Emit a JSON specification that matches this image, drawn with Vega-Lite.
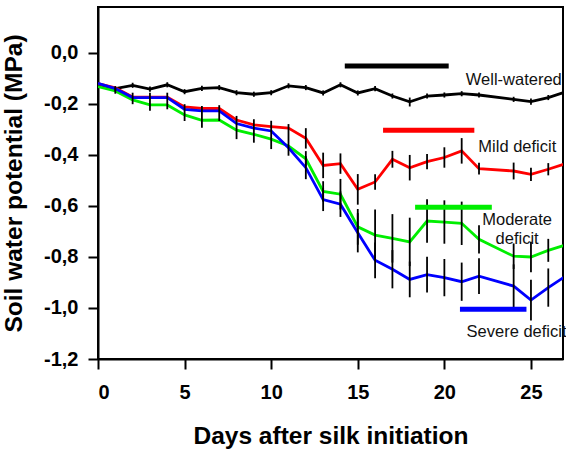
{
  "$schema": "https://vega.github.io/schema/vega-lite/v6.json",
  "autosize": "none",
  "padding": {"left": 98, "top": 7, "right": 3, "bottom": 94},
  "width": 465,
  "height": 352,
  "config": {
    "font": "Liberation Sans",
    "view": {"stroke": "#000000", "strokeWidth": 2},
    "axis": {
      "grid": false,
      "domainColor": "#000000",
      "domainWidth": 2,
      "tickColor": "#000000",
      "tickWidth": 2,
      "tickSize": 10,
      "labelColor": "#000000",
      "labelFont": "Liberation Sans",
      "labelFontWeight": "bold",
      "labelFontSize": 20,
      "titleColor": "#000000",
      "titleFont": "Liberation Sans",
      "titleFontWeight": "bold",
      "titleFontSize": 24.5
    }
  },
  "datasets": {
    "series": [
      {"s": "Well-watered", "day": 0, "v": -0.123}, {"s": "Well-watered", "day": 1, "v": -0.14}, {"s": "Well-watered", "day": 2, "v": -0.127}, {"s": "Well-watered", "day": 3, "v": -0.142}, {"s": "Well-watered", "day": 4, "v": -0.125}, {"s": "Well-watered", "day": 5, "v": -0.152}, {"s": "Well-watered", "day": 6, "v": -0.139}, {"s": "Well-watered", "day": 7, "v": -0.136}, {"s": "Well-watered", "day": 8, "v": -0.156}, {"s": "Well-watered", "day": 9, "v": -0.162}, {"s": "Well-watered", "day": 10, "v": -0.156}, {"s": "Well-watered", "day": 11, "v": -0.129}, {"s": "Well-watered", "day": 12, "v": -0.136}, {"s": "Well-watered", "day": 13, "v": -0.157}, {"s": "Well-watered", "day": 14, "v": -0.125}, {"s": "Well-watered", "day": 15, "v": -0.157}, {"s": "Well-watered", "day": 16, "v": -0.14}, {"s": "Well-watered", "day": 17, "v": -0.169}, {"s": "Well-watered", "day": 18, "v": -0.192}, {"s": "Well-watered", "day": 19, "v": -0.169}, {"s": "Well-watered", "day": 20, "v": -0.165}, {"s": "Well-watered", "day": 21, "v": -0.16}, {"s": "Well-watered", "day": 22, "v": -0.165}, {"s": "Well-watered", "day": 24, "v": -0.182}, {"s": "Well-watered", "day": 25, "v": -0.191}, {"s": "Well-watered", "day": 26, "v": -0.175}, {"s": "Well-watered", "day": 27, "v": -0.153},
      {"s": "Moderate deficit", "day": 0, "v": -0.132}, {"s": "Moderate deficit", "day": 1, "v": -0.149}, {"s": "Moderate deficit", "day": 2, "v": -0.184}, {"s": "Moderate deficit", "day": 3, "v": -0.204}, {"s": "Moderate deficit", "day": 4, "v": -0.204}, {"s": "Moderate deficit", "day": 5, "v": -0.243}, {"s": "Moderate deficit", "day": 6, "v": -0.264}, {"s": "Moderate deficit", "day": 7, "v": -0.263}, {"s": "Moderate deficit", "day": 8, "v": -0.303}, {"s": "Moderate deficit", "day": 9, "v": -0.319}, {"s": "Moderate deficit", "day": 10, "v": -0.338}, {"s": "Moderate deficit", "day": 11, "v": -0.365}, {"s": "Moderate deficit", "day": 12, "v": -0.415}, {"s": "Moderate deficit", "day": 13, "v": -0.543}, {"s": "Moderate deficit", "day": 14, "v": -0.554}, {"s": "Moderate deficit", "day": 15, "v": -0.682}, {"s": "Moderate deficit", "day": 16, "v": -0.714}, {"s": "Moderate deficit", "day": 17, "v": -0.727}, {"s": "Moderate deficit", "day": 18, "v": -0.741}, {"s": "Moderate deficit", "day": 19, "v": -0.659}, {"s": "Moderate deficit", "day": 20, "v": -0.663}, {"s": "Moderate deficit", "day": 21, "v": -0.668}, {"s": "Moderate deficit", "day": 22, "v": -0.731}, {"s": "Moderate deficit", "day": 24, "v": -0.797}, {"s": "Moderate deficit", "day": 25, "v": -0.8}, {"s": "Moderate deficit", "day": 26, "v": -0.774}, {"s": "Moderate deficit", "day": 27, "v": -0.753},
      {"s": "Mild deficit", "day": 0, "v": -0.12}, {"s": "Mild deficit", "day": 1, "v": -0.137}, {"s": "Mild deficit", "day": 2, "v": -0.173}, {"s": "Mild deficit", "day": 3, "v": -0.173}, {"s": "Mild deficit", "day": 4, "v": -0.173}, {"s": "Mild deficit", "day": 5, "v": -0.212}, {"s": "Mild deficit", "day": 6, "v": -0.218}, {"s": "Mild deficit", "day": 7, "v": -0.218}, {"s": "Mild deficit", "day": 8, "v": -0.263}, {"s": "Mild deficit", "day": 9, "v": -0.282}, {"s": "Mild deficit", "day": 10, "v": -0.289}, {"s": "Mild deficit", "day": 11, "v": -0.295}, {"s": "Mild deficit", "day": 12, "v": -0.335}, {"s": "Mild deficit", "day": 13, "v": -0.441}, {"s": "Mild deficit", "day": 14, "v": -0.434}, {"s": "Mild deficit", "day": 15, "v": -0.535}, {"s": "Mild deficit", "day": 16, "v": -0.506}, {"s": "Mild deficit", "day": 17, "v": -0.417}, {"s": "Mild deficit", "day": 18, "v": -0.45}, {"s": "Mild deficit", "day": 19, "v": -0.426}, {"s": "Mild deficit", "day": 20, "v": -0.41}, {"s": "Mild deficit", "day": 21, "v": -0.384}, {"s": "Mild deficit", "day": 22, "v": -0.454}, {"s": "Mild deficit", "day": 24, "v": -0.463}, {"s": "Mild deficit", "day": 25, "v": -0.476}, {"s": "Mild deficit", "day": 26, "v": -0.456}, {"s": "Mild deficit", "day": 27, "v": -0.434},
      {"s": "Severe deficit", "day": 0, "v": -0.119}, {"s": "Severe deficit", "day": 1, "v": -0.14}, {"s": "Severe deficit", "day": 2, "v": -0.175}, {"s": "Severe deficit", "day": 3, "v": -0.175}, {"s": "Severe deficit", "day": 4, "v": -0.175}, {"s": "Severe deficit", "day": 5, "v": -0.221}, {"s": "Severe deficit", "day": 6, "v": -0.227}, {"s": "Severe deficit", "day": 7, "v": -0.227}, {"s": "Severe deficit", "day": 8, "v": -0.277}, {"s": "Severe deficit", "day": 9, "v": -0.295}, {"s": "Severe deficit", "day": 10, "v": -0.306}, {"s": "Severe deficit", "day": 11, "v": -0.372}, {"s": "Severe deficit", "day": 12, "v": -0.45}, {"s": "Severe deficit", "day": 13, "v": -0.575}, {"s": "Severe deficit", "day": 14, "v": -0.593}, {"s": "Severe deficit", "day": 15, "v": -0.705}, {"s": "Severe deficit", "day": 16, "v": -0.813}, {"s": "Severe deficit", "day": 17, "v": -0.848}, {"s": "Severe deficit", "day": 18, "v": -0.888}, {"s": "Severe deficit", "day": 19, "v": -0.869}, {"s": "Severe deficit", "day": 20, "v": -0.881}, {"s": "Severe deficit", "day": 21, "v": -0.897}, {"s": "Severe deficit", "day": 22, "v": -0.875}, {"s": "Severe deficit", "day": 24, "v": -0.914}, {"s": "Severe deficit", "day": 25, "v": -0.969}, {"s": "Severe deficit", "day": 26, "v": -0.92}, {"s": "Severe deficit", "day": 27, "v": -0.875}
    ],
    "errors": [
      {"s": "Well-watered", "day": 1, "lo": -0.15, "hi": -0.13}, {"s": "Well-watered", "day": 2, "lo": -0.137, "hi": -0.117}, {"s": "Well-watered", "day": 3, "lo": -0.152, "hi": -0.132}, {"s": "Well-watered", "day": 4, "lo": -0.135, "hi": -0.115}, {"s": "Well-watered", "day": 5, "lo": -0.162, "hi": -0.142}, {"s": "Well-watered", "day": 6, "lo": -0.149, "hi": -0.129}, {"s": "Well-watered", "day": 7, "lo": -0.146, "hi": -0.126}, {"s": "Well-watered", "day": 8, "lo": -0.166, "hi": -0.146}, {"s": "Well-watered", "day": 9, "lo": -0.172, "hi": -0.152}, {"s": "Well-watered", "day": 10, "lo": -0.166, "hi": -0.146}, {"s": "Well-watered", "day": 11, "lo": -0.139, "hi": -0.119}, {"s": "Well-watered", "day": 12, "lo": -0.146, "hi": -0.126}, {"s": "Well-watered", "day": 13, "lo": -0.167, "hi": -0.147}, {"s": "Well-watered", "day": 14, "lo": -0.135, "hi": -0.115}, {"s": "Well-watered", "day": 15, "lo": -0.167, "hi": -0.147}, {"s": "Well-watered", "day": 16, "lo": -0.15, "hi": -0.13}, {"s": "Well-watered", "day": 17, "lo": -0.179, "hi": -0.159}, {"s": "Well-watered", "day": 18, "lo": -0.21, "hi": -0.175}, {"s": "Well-watered", "day": 19, "lo": -0.179, "hi": -0.159}, {"s": "Well-watered", "day": 20, "lo": -0.175, "hi": -0.155}, {"s": "Well-watered", "day": 21, "lo": -0.17, "hi": -0.15}, {"s": "Well-watered", "day": 22, "lo": -0.175, "hi": -0.155}, {"s": "Well-watered", "day": 24, "lo": -0.192, "hi": -0.172}, {"s": "Well-watered", "day": 25, "lo": -0.203, "hi": -0.179}, {"s": "Well-watered", "day": 26, "lo": -0.185, "hi": -0.165},
      {"s": "Moderate deficit", "day": 1, "lo": -0.16, "hi": -0.135}, {"s": "Moderate deficit", "day": 2, "lo": -0.201, "hi": -0.156}, {"s": "Moderate deficit", "day": 3, "lo": -0.227, "hi": -0.156}, {"s": "Moderate deficit", "day": 4, "lo": -0.221, "hi": -0.156}, {"s": "Moderate deficit", "day": 5, "lo": -0.267, "hi": -0.201}, {"s": "Moderate deficit", "day": 6, "lo": -0.293, "hi": -0.208}, {"s": "Moderate deficit", "day": 7, "lo": -0.267, "hi": -0.205}, {"s": "Moderate deficit", "day": 8, "lo": -0.338, "hi": -0.247}, {"s": "Moderate deficit", "day": 9, "lo": -0.352, "hi": -0.26}, {"s": "Moderate deficit", "day": 10, "lo": -0.377, "hi": -0.266}, {"s": "Moderate deficit", "day": 11, "lo": -0.403, "hi": -0.279}, {"s": "Moderate deficit", "day": 12, "lo": -0.445, "hi": -0.385}, {"s": "Moderate deficit", "day": 13, "lo": -0.583, "hi": -0.503}, {"s": "Moderate deficit", "day": 14, "lo": -0.614, "hi": -0.494}, {"s": "Moderate deficit", "day": 15, "lo": -0.752, "hi": -0.612}, {"s": "Moderate deficit", "day": 16, "lo": -0.814, "hi": -0.614}, {"s": "Moderate deficit", "day": 17, "lo": -0.822, "hi": -0.632}, {"s": "Moderate deficit", "day": 18, "lo": -0.836, "hi": -0.646}, {"s": "Moderate deficit", "day": 19, "lo": -0.744, "hi": -0.574}, {"s": "Moderate deficit", "day": 20, "lo": -0.748, "hi": -0.578}, {"s": "Moderate deficit", "day": 21, "lo": -0.753, "hi": -0.583}, {"s": "Moderate deficit", "day": 22, "lo": -0.786, "hi": -0.676}, {"s": "Moderate deficit", "day": 24, "lo": -0.847, "hi": -0.747}, {"s": "Moderate deficit", "day": 25, "lo": -0.86, "hi": -0.74}, {"s": "Moderate deficit", "day": 26, "lo": -0.819, "hi": -0.729},
      {"s": "Mild deficit", "day": 12, "lo": -0.375, "hi": -0.295}, {"s": "Mild deficit", "day": 13, "lo": -0.491, "hi": -0.391}, {"s": "Mild deficit", "day": 14, "lo": -0.474, "hi": -0.394}, {"s": "Mild deficit", "day": 15, "lo": -0.595, "hi": -0.475}, {"s": "Mild deficit", "day": 16, "lo": -0.536, "hi": -0.476}, {"s": "Mild deficit", "day": 17, "lo": -0.45, "hi": -0.384}, {"s": "Mild deficit", "day": 18, "lo": -0.5, "hi": -0.4}, {"s": "Mild deficit", "day": 19, "lo": -0.456, "hi": -0.396}, {"s": "Mild deficit", "day": 20, "lo": -0.45, "hi": -0.37}, {"s": "Mild deficit", "day": 21, "lo": -0.434, "hi": -0.334}, {"s": "Mild deficit", "day": 22, "lo": -0.477, "hi": -0.431}, {"s": "Mild deficit", "day": 24, "lo": -0.496, "hi": -0.43}, {"s": "Mild deficit", "day": 25, "lo": -0.502, "hi": -0.45}, {"s": "Mild deficit", "day": 26, "lo": -0.48, "hi": -0.432},
      {"s": "Severe deficit", "day": 12, "lo": -0.495, "hi": -0.405}, {"s": "Severe deficit", "day": 13, "lo": -0.62, "hi": -0.53}, {"s": "Severe deficit", "day": 14, "lo": -0.643, "hi": -0.543}, {"s": "Severe deficit", "day": 15, "lo": -0.782, "hi": -0.628}, {"s": "Severe deficit", "day": 16, "lo": -0.883, "hi": -0.743}, {"s": "Severe deficit", "day": 17, "lo": -0.923, "hi": -0.773}, {"s": "Severe deficit", "day": 18, "lo": -0.958, "hi": -0.818}, {"s": "Severe deficit", "day": 19, "lo": -0.939, "hi": -0.799}, {"s": "Severe deficit", "day": 20, "lo": -0.954, "hi": -0.808}, {"s": "Severe deficit", "day": 21, "lo": -0.972, "hi": -0.822}, {"s": "Severe deficit", "day": 22, "lo": -0.945, "hi": -0.805}, {"s": "Severe deficit", "day": 24, "lo": -0.999, "hi": -0.829}, {"s": "Severe deficit", "day": 25, "lo": -1.049, "hi": -0.889}, {"s": "Severe deficit", "day": 26, "lo": -0.995, "hi": -0.845}
    ],
    "periods": [
      {"s": "Well-watered", "start": 14.25, "end": 20.25, "v": -0.051},
      {"s": "Mild deficit", "start": 16.46, "end": 21.73, "v": -0.303},
      {"s": "Moderate deficit", "start": 18.31, "end": 22.74, "v": -0.605},
      {"s": "Severe deficit", "start": 20.9, "end": 24.74, "v": -1.005}
    ],
    "labelsLeft": [
      {"text": "Mild deficit", "day": 21.96, "v": -0.37},
      {"text": "Severe deficit", "day": 21.28, "v": -1.093}
    ],
    "labelsRight": [
      {"text": "Well-watered", "day": 26.78, "v": -0.108}
    ],
    "labelsCenter": [
      {"text": "Moderate", "day": 24.2, "v": -0.656},
      {"text": "deficit", "day": 24.2, "v": -0.731}
    ]
  },
  "encoding": {
    "x": {
      "type": "quantitative",
      "scale": {"domain": [0, 26.85], "nice": false, "zero": false},
      "axis": {"values": [0, 5, 10, 15, 20, 25], "title": "Days after silk initiation", "labelPadding": 13, "titlePadding": 22}
    },
    "y": {
      "type": "quantitative",
      "scale": {"domain": [-1.2, 0.18], "nice": false, "zero": false},
      "axis": {"values": [-1.2, -1.0, -0.8, -0.6, -0.4, -0.2, 0], "title": "Soil water potential (MPa)", "labelPadding": 10, "titlePadding": 17, "labelExpr": "(datum.value < -0.001 ? '-' : '') + replace(format(abs(datum.value), '.1f'), '.', ',')"}
    }
  },
  "layer": [
    {
      "data": {"name": "series"},
      "mark": {"type": "line", "strokeWidth": 2.8, "clip": true},
      "encoding": {
        "x": {"field": "day", "type": "quantitative"},
        "y": {"field": "v", "type": "quantitative"},
        "color": {"field": "s", "type": "nominal", "legend": null, "sort": null,
          "scale": {"domain": ["Well-watered", "Moderate deficit", "Mild deficit", "Severe deficit"], "range": ["#000000", "#00ee00", "#ff0000", "#0000ff"]}}
      }
    },
    {
      "data": {"name": "errors"},
      "mark": {"type": "rule", "color": "#000000", "strokeWidth": 1.8, "clip": true},
      "encoding": {
        "x": {"field": "day", "type": "quantitative"},
        "y": {"field": "lo", "type": "quantitative"},
        "y2": {"field": "hi"}
      }
    },
    {
      "data": {"name": "periods"},
      "mark": {"type": "rule", "strokeWidth": 5},
      "encoding": {
        "x": {"field": "start", "type": "quantitative"},
        "x2": {"field": "end"},
        "y": {"field": "v", "type": "quantitative"},
        "color": {"field": "s", "type": "nominal", "legend": null}
      }
    },
    {
      "data": {"name": "labelsLeft"},
      "mark": {"type": "text", "align": "left", "baseline": "middle", "fontSize": 16.5, "font": "Liberation Sans", "color": "#111111"},
      "encoding": {
        "x": {"field": "day", "type": "quantitative"},
        "y": {"field": "v", "type": "quantitative"},
        "text": {"field": "text"}
      }
    },
    {
      "data": {"name": "labelsRight"},
      "mark": {"type": "text", "align": "right", "baseline": "middle", "fontSize": 16.5, "font": "Liberation Sans", "color": "#111111"},
      "encoding": {
        "x": {"field": "day", "type": "quantitative"},
        "y": {"field": "v", "type": "quantitative"},
        "text": {"field": "text"}
      }
    },
    {
      "data": {"name": "labelsCenter"},
      "mark": {"type": "text", "align": "center", "baseline": "middle", "fontSize": 16.5, "font": "Liberation Sans", "color": "#111111"},
      "encoding": {
        "x": {"field": "day", "type": "quantitative"},
        "y": {"field": "v", "type": "quantitative"},
        "text": {"field": "text"}
      }
    }
  ]
}
